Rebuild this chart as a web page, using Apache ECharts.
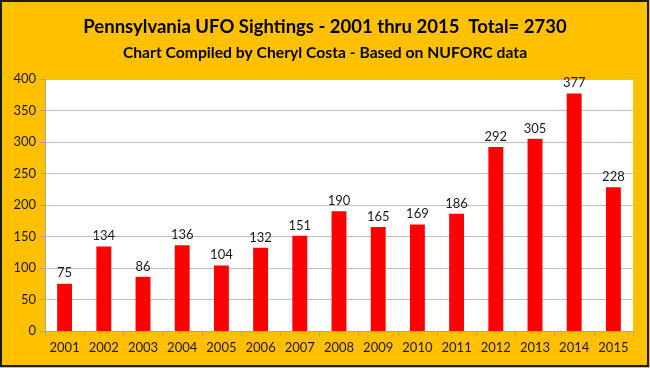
<!DOCTYPE html>
<html><head><meta charset="utf-8">
<script src="https://cdn.jsdelivr.net/npm/echarts@6/dist/echarts.min.js"></script>
<style>html,body{margin:0;padding:0;background:#FFC000}#c{width:650px;height:368px}</style>
</head><body><div id="c"></div>
<script>
const years = ['2001','2002','2003','2004','2005','2006','2007','2008','2009','2010','2011','2012','2013','2014','2015'];
const sightings = [75,134,86,136,104,132,151,190,165,169,186,292,305,377,228];
const titleText = 'Pennsylvania UFO Sightings - 2001 thru 2015  Total= 2730';
const subtitleText = 'Chart Compiled by Cheryl Costa - Based on NUFORC data';
const font = 'Lato, "Open Sans", sans-serif';
const chart = echarts.init(document.getElementById('c'));
chart.setOption({
  backgroundColor: '#FFC000',
  animation: false,
  graphic: [{type:'rect', shape:{x:1,y:1,width:647,height:365}, style:{fill:'none', stroke:'#1a1a1a', lineWidth:2}}],
  title: [
    {text: titleText, left:'center', top:13, textStyle:{fontFamily:font, fontWeight:'bold', fontSize:18.5, color:'#000'}},
    {text: subtitleText, left:'center', top:40, textStyle:{fontFamily:font, fontWeight:'bold', fontSize:15.7, color:'#000'}}
  ],
  grid: {left:45, right:17, top:79, bottom:37, show:true, backgroundColor:'#fff', borderWidth:0},
  xAxis: {type:'category', data: years,
    axisLine:{lineStyle:{color:'#a6a6a6'}},
    axisTick:{show:true, alignWithLabel:false, interval:0, length:5, lineStyle:{color:'#a6a6a6'}},
    axisLabel:{interval:0, fontFamily:font, fontSize:13, color:'#1a1a1a', margin:10}},
  yAxis: {type:'value', min:0, max:400, interval:50,
    axisLine:{show:true, lineStyle:{color:'#a6a6a6'}},
    axisTick:{show:true, length:5, lineStyle:{color:'#a6a6a6'}},
    splitLine:{lineStyle:{color:'#bfbfbf'}},
    axisLabel:{fontFamily:font, fontSize:13, color:'#1a1a1a', margin:9}},
  series: [{type:'bar', data: sightings, barWidth:'38%',
    itemStyle:{color:'#FF0000'},
    label:{show:true, position:'top', distance:4, fontFamily:font, fontSize:13, color:'#1a1a1a'}}]
});
</script></body></html>
